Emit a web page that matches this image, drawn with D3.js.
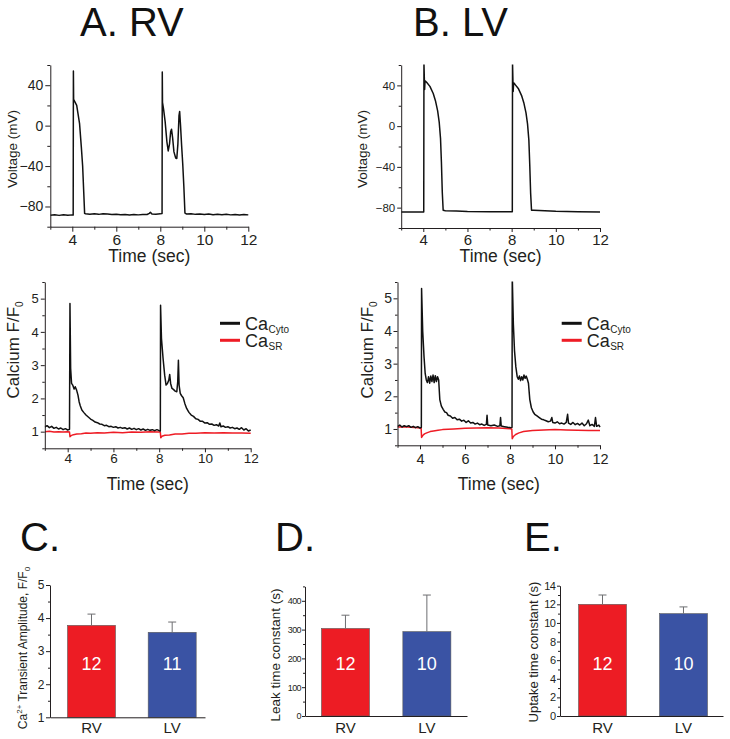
<!DOCTYPE html>
<html><head><meta charset="utf-8">
<script src="https://cdn.jsdelivr.net/npm/d3@7/dist/d3.min.js"></script>
<style>
html,body{margin:0;padding:0;background:#fff;}
svg{display:block;font-family:"Liberation Sans",Arial,Helvetica,sans-serif;}
</style></head><body>
<svg id="fig" width="730" height="739"></svg>
<script>
// ---------- DATA ----------
const timeTicks = [4, 6, 8, 10, 12];
const timeMinor = [3, 5, 7, 9, 11];
const voltTicks = [-80, -40, 0, 40];
const voltMinor = [-100, -60, -20, 20, 60];
const caTicks = [1, 2, 3, 4, 5];
const caMinor = [0.5, 1.5, 2.5, 3.5, 4.5, 5.5];

// RV membrane voltage [time s, mV]
const rvVoltage = [[3.0,-88.6],[3.2,-88.2],[3.4,-88.8],[3.6,-88.1],[3.8,-88.7],[4.0,-88.3],[4.04,-88.5],[4.05,54],[4.06,26],[4.2,20],[4.33,2],[4.41,-21],[4.47,-40],[4.52,-66],[4.56,-86.8],[4.6,-87.2],[4.8,-87.6],[5.0,-87.3],[5.2,-87.8],[5.4,-87.2],[5.6,-87.5],[5.8,-88.0],[6.0,-87.6],[6.2,-88.2],[6.4,-87.9],[6.6,-88.4],[6.8,-88.0],[7.0,-88.3],[7.2,-88.0],[7.4,-87.9],[7.5,-86.8],[7.55,-85.8],[7.62,-87.4],[7.8,-87.6],[8.0,-87.3],[8.08,-87.0],[8.09,53],[8.1,23],[8.15,16],[8.22,4],[8.3,-16],[8.36,-25],[8.42,-18],[8.47,-6],[8.51,-3.5],[8.56,-12],[8.62,-26],[8.7,-32],[8.75,-32.5],[8.8,-18],[8.85,10],[8.88,14],[8.92,0],[8.97,-20],[9.02,-38],[9.07,-60],[9.12,-86.5],[9.2,-87.5],[9.4,-87.2],[9.6,-87.8],[9.8,-87.4],[10.0,-87.9],[10.2,-87.5],[10.4,-88.1],[10.6,-87.7],[10.8,-88.2],[11.0,-87.8],[11.2,-88.3],[11.4,-87.9],[11.6,-88.4],[11.8,-88.0],[12.0,-88.3]];

// LV membrane voltage [time s, mV]
const lvVoltage = [[3.0,-84.2],[3.5,-84.3],[4.0,-84.2],[4.02,-84.2],[4.03,62],[4.06,36],[4.08,44.5],[4.15,43],[4.3,39],[4.45,32],[4.55,25],[4.65,15],[4.72,4],[4.78,-12],[4.82,-35],[4.86,-65],[4.9,-82.5],[5.0,-83],[5.5,-83.4],[6.0,-83.8],[7.0,-84],[8.0,-84],[8.03,-84],[8.04,62],[8.07,34],[8.09,42.5],[8.15,41],[8.3,37],[8.45,30],[8.55,23],[8.65,13],[8.72,2],[8.78,-14],[8.82,-38],[8.86,-66],[8.9,-82.5],[9.0,-82.6],[9.5,-83],[10,-83.6],[11,-84],[12,-84.2]];

// RV cytosolic Ca (F/F0)
const rvCyto = [[3.0,1.14],[3.1,1.18],[3.2,1.12],[3.3,1.16],[3.4,1.1],[3.5,1.13],[3.6,1.08],[3.7,1.11],[3.8,1.06],[3.9,1.09],[4.0,1.05],[4.08,1.07],[4.1,4.85],[4.13,2.9],[4.17,2.45],[4.22,2.4],[4.28,2.28],[4.33,2.35],[4.39,2.25],[4.45,2.1],[4.5,1.9],[4.55,1.78],[4.62,1.65],[4.7,1.58],[4.8,1.5],[4.9,1.44],[5.0,1.38],[5.1,1.34],[5.2,1.29],[5.3,1.27],[5.4,1.23],[5.5,1.22],[5.6,1.18],[5.7,1.19],[5.8,1.15],[5.9,1.16],[6.0,1.13],[6.1,1.15],[6.2,1.11],[6.3,1.13],[6.4,1.1],[6.5,1.12],[6.6,1.08],[6.7,1.11],[6.8,1.07],[6.9,1.1],[7.0,1.06],[7.1,1.09],[7.2,1.05],[7.3,1.08],[7.4,1.04],[7.5,1.07],[7.6,1.04],[7.7,1.06],[7.8,1.03],[7.9,1.06],[8.0,1.03],[8.05,1.02],[8.06,4.8],[8.1,3.8],[8.17,3.2],[8.24,2.7],[8.3,2.4],[8.36,2.45],[8.42,2.55],[8.46,2.72],[8.5,2.45],[8.56,2.3],[8.62,2.27],[8.7,2.22],[8.77,2.2],[8.81,2.5],[8.84,3.15],[8.87,2.4],[8.92,2.15],[8.98,2.08],[9.05,2.02],[9.12,1.85],[9.2,1.7],[9.3,1.58],[9.4,1.5],[9.5,1.46],[9.6,1.39],[9.7,1.37],[9.8,1.31],[9.9,1.31],[10.0,1.26],[10.1,1.27],[10.2,1.22],[10.3,1.23],[10.4,1.19],[10.5,1.21],[10.6,1.17],[10.65,1.26],[10.7,1.15],[10.8,1.17],[10.9,1.13],[11.0,1.15],[11.1,1.11],[11.2,1.13],[11.3,1.09],[11.4,1.11],[11.5,1.07],[11.6,1.12],[11.7,1.05],[11.8,1.09],[11.9,1.02],[12.0,1.05]];

// RV SR Ca (F/F0)
const rvSR = [[3.0,1.0],[3.2,1.01],[3.4,0.99],[3.6,1.0],[3.8,0.99],[4.0,1.0],[4.08,0.99],[4.1,0.85],[4.15,0.88],[4.25,0.91],[4.4,0.93],[4.6,0.94],[4.8,0.96],[5.0,0.95],[5.3,0.97],[5.6,0.96],[6.0,0.98],[6.4,0.97],[6.8,0.99],[7.2,0.98],[7.6,1.0],[8.0,0.99],[8.05,0.98],[8.07,0.82],[8.12,0.86],[8.25,0.89],[8.45,0.9],[8.7,0.93],[9.0,0.93],[9.3,0.95],[9.6,0.95],[10.0,0.97],[10.4,0.96],[10.8,0.97],[11.2,0.96],[11.6,0.96],[12.0,0.95]];

// LV cytosolic Ca (F/F0)
const lvCyto = [[3.0,1.08],[3.1,1.12],[3.2,1.06],[3.3,1.1],[3.4,1.07],[3.5,1.1],[3.6,1.05],[3.7,1.08],[3.8,1.04],[3.9,1.07],[4.0,1.03],[4.06,1.05],[4.07,5.3],[4.12,4.0],[4.18,3.2],[4.23,2.7],[4.28,2.5],[4.33,2.42],[4.38,2.6],[4.43,2.4],[4.48,2.62],[4.53,2.45],[4.58,2.65],[4.63,2.42],[4.68,2.63],[4.73,2.45],[4.78,2.6],[4.83,2.5],[4.88,1.9],[4.95,1.7],[5.03,1.6],[5.1,1.52],[5.18,1.5],[5.25,1.42],[5.35,1.4],[5.45,1.33],[5.55,1.35],[5.65,1.28],[5.75,1.3],[5.85,1.24],[5.95,1.27],[6.05,1.2],[6.15,1.25],[6.25,1.18],[6.35,1.2],[6.45,1.15],[6.55,1.18],[6.65,1.13],[6.75,1.15],[6.85,1.11],[6.95,1.14],[6.98,1.42],[7.01,1.12],[7.15,1.1],[7.3,1.12],[7.45,1.08],[7.55,1.1],[7.58,1.35],[7.61,1.09],[7.75,1.07],[7.9,1.05],[8.05,1.04],[8.09,1.05],[8.1,5.7],[8.15,4.2],[8.2,3.4],[8.26,2.9],[8.32,2.6],[8.37,2.52],[8.42,2.62],[8.47,2.48],[8.52,2.6],[8.57,2.5],[8.62,2.65],[8.67,2.55],[8.72,2.62],[8.77,2.52],[8.82,2.4],[8.88,1.9],[8.95,1.65],[9.03,1.52],[9.1,1.45],[9.2,1.4],[9.3,1.35],[9.4,1.3],[9.5,1.28],[9.6,1.25],[9.7,1.22],[9.8,1.24],[9.86,1.35],[9.9,1.2],[10.0,1.18],[10.1,1.22],[10.2,1.16],[10.3,1.18],[10.4,1.15],[10.5,1.2],[10.56,1.45],[10.6,1.18],[10.7,1.14],[10.8,1.2],[10.9,1.13],[11.0,1.17],[11.1,1.12],[11.2,1.18],[11.3,1.1],[11.4,1.16],[11.48,1.27],[11.55,1.1],[11.65,1.14],[11.75,1.08],[11.8,1.35],[11.85,1.08],[11.95,1.12],[12.0,1.06]];

// LV SR Ca (F/F0)
const lvSR = [[3.0,1.06],[3.3,1.07],[3.6,1.05],[3.9,1.04],[4.05,1.03],[4.07,0.74],[4.12,0.8],[4.2,0.85],[4.3,0.88],[4.45,0.92],[4.6,0.94],[4.8,0.96],[5.0,0.98],[5.5,1.0],[6.0,1.02],[6.5,1.03],[7.0,1.04],[7.5,1.03],[8.0,1.01],[8.08,1.0],[8.1,0.7],[8.15,0.77],[8.25,0.83],[8.4,0.88],[8.6,0.92],[8.8,0.94],[9.0,0.95],[9.5,0.97],[10.0,0.98],[10.5,0.97],[11.0,0.96],[11.5,0.95],[12.0,0.95]];

// Bar summaries
const barCats = ["RV", "LV"];
const ampMean = [3.78, 3.57];
const ampErr = [0.34, 0.31];
const ampN = [12, 11];
const ampTicks = [1, 2, 3, 4, 5];
const ampMinor = [1.5, 2.5, 3.5, 4.5];
const leakMean = [304, 293];
const leakErr = [46, 127];
const leakN = [12, 10];
const leakTicks = [0, 100, 200, 300, 400];
const leakMinor = [50, 150, 250, 350, 450];
const upMean = [12.0, 11.0];
const upErr = [1.0, 0.72];
const upN = [12, 10];
const upTicks = [0, 2, 4, 6, 8, 10, 12, 14];
const upMinor = [1, 3, 5, 7, 9, 11, 13];

// ---------- DRAWING ----------
const svg = d3.select("#fig");
const AX = "#231f20";
const RED = "#ed1c24", BLUE = "#3a53a4", RED_LINE = "#ee1c25";

function styleAxis(sel, fs) {
  sel.selectAll("path.domain").attr("stroke", AX).attr("stroke-width", 1);
  sel.selectAll("line").attr("stroke", AX).attr("stroke-width", 1);
  sel.selectAll("text").attr("fill", AX).style("font-size", fs + "px");
}

function leftAxis(g, y, xPos, major, minor, o) {
  const a = g.append("g").attr("transform", `translate(${xPos},0)`)
    .call(d3.axisLeft(y).tickValues(major).tickSize(o.tick).tickSizeOuter(0).tickPadding(o.pad).tickFormat(o.fmt || d3.format("d")));
  styleAxis(a, o.fs);
  if (o.ls !== undefined) a.selectAll("text").style("letter-spacing", o.ls + "px");
  if (minor) {
    const m = g.append("g").attr("transform", `translate(${xPos},0)`)
      .call(d3.axisLeft(y).tickValues(minor).tickSize(o.minorTick).tickFormat(""));
    m.select("path.domain").remove();
    styleAxis(m, o.fs);
  }
}

function bottomAxis(g, x, yPos, major, minor, o) {
  const a = g.append("g").attr("transform", `translate(0,${yPos})`)
    .call(d3.axisBottom(x).tickValues(major).tickSize(o.tick).tickSizeOuter(0)
      .tickPadding(o.baseline - o.tick - 0.71 * o.fs).tickFormat(d3.format("d")));
  styleAxis(a, o.fs);
  if (minor) {
    const m = g.append("g").attr("transform", `translate(0,${yPos})`)
      .call(d3.axisBottom(x).tickValues(minor).tickSize(o.minorTick).tickFormat(""));
    m.select("path.domain").remove();
    styleAxis(m, o.fs);
  }
}

function rotLabel(x, y, fs, parts) {
  const t = svg.append("text").attr("transform", `translate(${x},${y}) rotate(-90)`)
    .attr("text-anchor", "middle").attr("fill", AX).style("font-size", fs + "px");
  parts.forEach(p => {
    const ts = t.append("tspan").text(p.t);
    if (p.fs) ts.style("font-size", p.fs + "px");
    if (p.dy) ts.attr("dy", p.dy);
  });
  return t;
}

let clipCount = 0;
function tracePanel(o) {
  const x = d3.scaleLinear().domain([3, 12]).range([o.x0, o.x1]);
  const y = d3.scaleLinear().domain(o.yDom).range([o.y0, o.y1]);
  const g = svg.append("g");
  const id = "clip" + (clipCount++);
  svg.append("clipPath").attr("id", id).append("rect")
    .attr("x", o.x0).attr("y", o.y1 - 0.5).attr("width", o.x1 - o.x0 + 3).attr("height", o.y0 - o.y1 + 1);
  o.series.forEach(s => {
    g.append("path").datum(s.data).attr("clip-path", `url(#${id})`)
      .attr("fill", "none").attr("stroke", s.color).attr("stroke-width", s.w)
      .attr("stroke-linejoin", "round")
      .attr("d", d3.line().x(d => x(d[0])).y(d => y(d[1])));
  });
  leftAxis(g, y, o.x0, o.yMajor, o.yMinor, o.yAx);
  bottomAxis(g, x, o.y0, timeTicks, timeMinor, o.xAx);
  svg.append("text").attr("x", (o.x0 + o.x1) / 2).attr("y", o.timeBase)
    .attr("text-anchor", "middle").attr("fill", AX).style("font-size", o.timeFs + "px").text("Time (sec)");
  return { x, y };
}

// Panel A voltage
tracePanel({
  x0: 50.3, x1: 248.3, y0: 226.7, y1: 65, yDom: [-100, 60],
  yMajor: voltTicks, yMinor: voltMinor,
  yAx: { tick: 5, minorTick: 3, pad: 2, fs: 14 },
  xAx: { tick: 5, minorTick: 3, baseline: 18, fs: 15.5 },
  series: [{ data: rvVoltage, color: "#111", w: 1.5 }],
  timeBase: 262, timeFs: 17.5
});
rotLabel(17, 149, 13.5, [{ t: "Voltage (mV)" }]);

// Panel B voltage
tracePanel({
  x0: 401.2, x1: 600, y0: 228, y1: 65, yDom: [-100, 60],
  yMajor: voltTicks, yMinor: voltMinor,
  yAx: { tick: 4, minorTick: 2.5, pad: 2, fs: 11.5 },
  xAx: { tick: 4, minorTick: 2.5, baseline: 16.5, fs: 15 },
  series: [{ data: lvVoltage, color: "#111", w: 1.5 }],
  timeBase: 262, timeFs: 17.5
});
rotLabel(367, 149, 13.5, [{ t: "Voltage (mV)" }]);

// Panel A calcium
tracePanel({
  x0: 44.8, x1: 250.7, y0: 448.3, y1: 282, yDom: [0.5, 5.5],
  yMajor: caTicks, yMinor: caMinor,
  yAx: { tick: 4, minorTick: 2.5, pad: 2, fs: 13 },
  xAx: { tick: 4, minorTick: 2.5, baseline: 15, fs: 13.5 },
  series: [{ data: rvSR, color: RED_LINE, w: 1.5 }, { data: rvCyto, color: "#111", w: 1.5 }],
  timeBase: 490, timeFs: 17.5
});
rotLabel(19, 350, 17, [{ t: "Calcium F/F" }, { t: "0", fs: 10, dy: "4" }]);

// Panel B calcium
tracePanel({
  x0: 397.5, x1: 600, y0: 445.3, y1: 282, yDom: [0.5, 5.5],
  yMajor: caTicks, yMinor: caMinor,
  yAx: { tick: 4, minorTick: 2.5, pad: 1.5, fs: 14 },
  xAx: { tick: 4, minorTick: 2.5, baseline: 18.5, fs: 14.5 },
  series: [{ data: lvSR, color: RED_LINE, w: 1.5 }, { data: lvCyto, color: "#111", w: 1.5 }],
  timeBase: 490, timeFs: 17.5
});
rotLabel(373, 350, 17, [{ t: "Calcium F/F" }, { t: "0", fs: 10, dy: "4" }]);

// Legends
function legend(x, y) {
  const items = [{ c: "#111", sub: "Cyto" }, { c: RED_LINE, sub: "SR" }];
  items.forEach((it, i) => {
    const yy = y + i * 17;
    svg.append("line").attr("x1", x).attr("x2", x + 20).attr("y1", yy).attr("y2", yy)
      .attr("stroke", it.c).attr("stroke-width", 3);
    svg.append("text").attr("x", x + 25).attr("y", yy + 6.5).attr("fill", AX)
      .style("font-size", "18px").text("Ca");
    svg.append("text").attr("x", x + 48.5).attr("y", yy + 9.5).attr("fill", AX)
      .style("font-size", "10px").text(it.sub);
  });
}
legend(220, 323.3);
legend(561.7, 323.3);

// Titles
const titles = [["A. RV", 80, 36], ["B. LV", 413, 36], ["C.", 20, 551], ["D.", 275, 551], ["E.", 524, 551]];
titles.forEach(([t, x, y]) => svg.append("text").attr("x", x).attr("y", y).attr("fill", "#111")
  .style("font-size", "40px").text(t));

// Bar panels
function barPanel(o) {
  const x = d3.scaleBand().domain(barCats).range([o.ax, o.xEnd])
    .paddingInner(o.pI).paddingOuter(o.pO).align(o.align);
  const y = d3.scaleLinear().domain(o.yDom).range([o.y0, o.y1]);
  const g = svg.append("g");
  g.selectAll("rect.bar").data(o.mean).join("rect")
    .attr("x", (d, i) => x(barCats[i])).attr("width", x.bandwidth())
    .attr("y", d => y(d)).attr("height", d => y(o.yDom[0]) - y(d))
    .attr("fill", (d, i) => i === 0 ? RED : BLUE).attr("stroke", "#5a5a5a").attr("stroke-width", 0.6);
  o.mean.forEach((m, i) => {
    const cx = x(barCats[i]) + x.bandwidth() / 2;
    g.append("line").attr("x1", cx).attr("x2", cx).attr("y1", y(m)).attr("y2", y(m + o.err[i]))
      .attr("stroke", "#6d6e71").attr("stroke-width", 1);
    g.append("line").attr("x1", cx - 4).attr("x2", cx + 4).attr("y1", y(m + o.err[i])).attr("y2", y(m + o.err[i]))
      .attr("stroke", "#6d6e71").attr("stroke-width", 1);
    g.append("text").attr("x", cx).attr("y", 670).attr("text-anchor", "middle").attr("fill", "#fff")
      .style("font-size", "18px").text(o.n[i]);
    g.append("text").attr("x", cx).attr("y", 733).attr("text-anchor", "middle").attr("fill", AX)
      .style("font-size", "15px").text(barCats[i]);
  });
  const xa = g.append("g").attr("transform", `translate(0,${o.y0})`)
    .call(d3.axisBottom(x).tickSize(0).tickSizeOuter(0).tickFormat(""));
  styleAxis(xa, 12);
  leftAxis(g, y, o.ax, o.major, o.minor, o.yAx);
}

barPanel({
  ax: 50, xEnd: 205, pI: 0.405, pO: 0.163, align: 0.665,
  y0: 717.3, y1: 585, yDom: [1, 5], mean: ampMean, err: ampErr, n: ampN,
  major: ampTicks, minor: ampMinor, yAx: { tick: 4, minorTick: 2, pad: 1.5, fs: 12 }
});
rotLabel(27, 648, 12, [{ t: "Ca" }, { t: "2+", fs: 8, dy: "-5" }, { t: " Transient Amplitude, F/F", dy: "5" }, { t: "0", fs: 8, dy: "3" }]);

barPanel({
  ax: 305, xEnd: 467, pI: 0.41, pO: 0.2, align: 0.505,
  y0: 716, y1: 586.4, yDom: [0, 450], mean: leakMean, err: leakErr, n: leakN,
  major: leakTicks, minor: leakMinor, yAx: { tick: 3, minorTick: 2, pad: 1, fs: 9, ls: -0.6 }
});
rotLabel(280, 655, 13.5, [{ t: "Leak time constant (s)" }]);

barPanel({
  ax: 560, xEnd: 723, pI: 0.407, pO: 0.21, align: 0.544,
  y0: 716, y1: 585.7, yDom: [0, 14], mean: upMean, err: upErr, n: upN,
  major: upTicks, minor: upMinor, yAx: { tick: 3, minorTick: 2, pad: 1.5, fs: 11, ls: -0.5 }
});
rotLabel(538, 652, 13, [{ t: "Uptake time constant (s)" }]);
</script>
</body></html>
